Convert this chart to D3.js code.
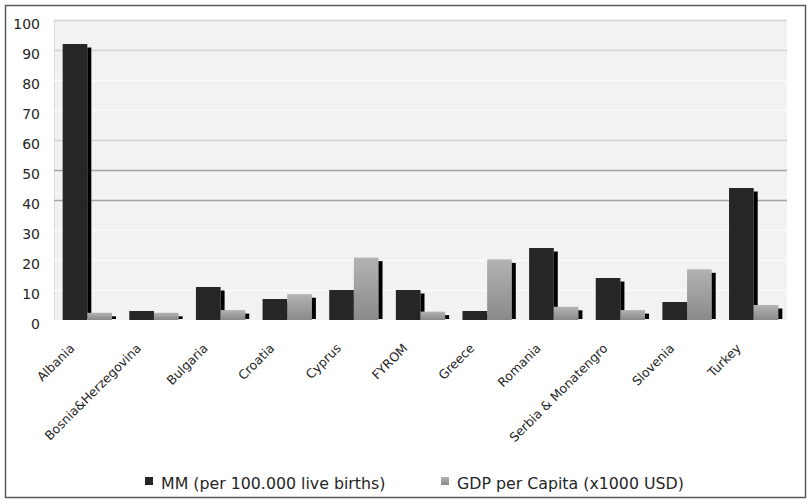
<!DOCTYPE html>
<html>
<head>
<meta charset="utf-8">
<script src="https://cdn.jsdelivr.net/npm/d3@7"></script>
<style>
  html, body { margin: 0; padding: 0; background: #fff; }
  svg { display: block; }
  text { font-family: "DejaVu Sans", Verdana, sans-serif; fill: #262626; }
</style>
</head>
<body>
<svg id="chart" width="807" height="499"></svg>
<script>
// Maternal mortality vs GDP per capita, Balkan countries
const countries = ["Albania", "Bosnia&Herzegovina", "Bulgaria", "Croatia", "Cyprus", "FYROM",
  "Greece", "Romania", "Serbia & Monatengro", "Slovenia", "Turkey"];
const mmRate = [92, 3, 11, 7, 10, 10, 3, 24, 14, 6, 44];
const gdpPerCapita = [2.4, 2.4, 3.3, 8.6, 20.8, 2.8, 20.2, 4.4, 3.3, 16.9, 5.0];
const seriesNames = ["MM (per 100.000 live births)", "GDP per Capita (x1000 USD)"];
const yTicks = [0, 10, 20, 30, 40, 50, 60, 70, 80, 90, 100];

const svg = d3.select("#chart");
const plot = { left: 54, right: 787, top: 20, bottom: 320 };

const defs = svg.append("defs");
const grad = defs.append("linearGradient")
  .attr("id", "gdpFill").attr("x1", 0).attr("y1", 0).attr("x2", 0).attr("y2", 1);
grad.append("stop").attr("offset", "0%").attr("stop-color", "#b3b3b3");
grad.append("stop").attr("offset", "100%").attr("stop-color", "#8a8a8a");

// outer frame
svg.append("rect")
  .attr("x", 5.5).attr("y", 5.5).attr("width", 800).attr("height", 492)
  .attr("fill", "#fff").attr("stroke", "#5a5a5a").attr("stroke-width", 1.5);

const x0 = d3.scaleBand().domain(countries).range([plot.left, plot.right]).padding(0);
const groupW = x0.bandwidth() * 0.74;
const x1 = d3.scaleBand().domain([0, 1]).range([0, groupW]).padding(0);
const y = d3.scaleLinear().domain([0, 100]).range([plot.bottom, plot.top]);

// plot background
svg.append("rect")
  .attr("x", plot.left).attr("y", plot.top)
  .attr("width", plot.right - plot.left).attr("height", plot.bottom - plot.top)
  .attr("fill", "#f2f2f2");
svg.append("line")
  .attr("x1", plot.left + 0.5).attr("x2", plot.left + 0.5)
  .attr("y1", plot.top).attr("y2", plot.bottom)
  .attr("stroke", "#dcdcdc");

// horizontal gridlines
const gridTone = v => (v === 40 || v === 50) ? "#a3a3a3"
  : (v === 100 || v === 90 || v === 60) ? "#d4d4d4" : "#fbfbfb";
svg.append("g").selectAll("line")
  .data(yTicks.filter(v => v > 0))
  .join("line")
  .attr("x1", plot.left).attr("x2", plot.right)
  .attr("y1", d => Math.round(y(d)) + 0.5).attr("y2", d => Math.round(y(d)) + 0.5)
  .attr("stroke", d => gridTone(d)).attr("stroke-width", 1.5);

// y axis labels
const yAxis = d3.axisLeft(y).tickValues(yTicks).tickSize(0).tickPadding(10);
const yg = svg.append("g").attr("transform", `translate(${plot.left - 4},0)`).call(yAxis);
yg.select(".domain").remove();
yg.selectAll("text").attr("font-size", 14).attr("dy", "0.62em")
  .style("font-family", "'DejaVu Sans', sans-serif").attr("fill", "#262626");

// bars with a dark side shadow
const groups = svg.append("g").selectAll("g")
  .data(countries.map((c, i) => ({ c, vals: [mmRate[i], gdpPerCapita[i]] })))
  .join("g")
  .attr("transform", d => `translate(${x0(d.c) + (x0.bandwidth() - groupW) / 2},0)`);

function drawSeries(s) {
  groups.append("rect")
    .attr("x", x1(s))
    .attr("y", d => y(d.vals[s]))
    .attr("width", x1.bandwidth())
    .attr("height", d => y(0) - y(d.vals[s]))
    .attr("fill", s === 0 ? "#262626" : "url(#gdpFill)");
  groups.append("rect")
    .attr("x", x1(s) + x1.bandwidth())
    .attr("y", d => y(d.vals[s]) + 3.5)
    .attr("width", 4)
    .attr("height", d => Math.max(0, y(0) - y(d.vals[s]) - 4.5))
    .attr("fill", "#000");
}
// MM first, so GDP bars sit over the MM shadows
drawSeries(0);
drawSeries(1);

// category labels, rotated
const xAxis = d3.axisBottom(x0).tickSize(0).tickPadding(0);
const xg = svg.append("g").attr("transform", `translate(0,${plot.bottom})`).call(xAxis);
xg.select(".domain").remove();
xg.selectAll("text")
  .attr("font-size", 12.5)
  .style("font-family", "'DejaVu Sans', sans-serif")
  .attr("fill", "#262626")
  .attr("text-anchor", "end")
  .attr("dy", null).attr("y", 0)
  .attr("transform", "translate(-12,29) rotate(-45)");

// legend
const legend = svg.append("g");
const legendX = [145, 441];
seriesNames.forEach((name, i) => {
  legend.append("rect")
    .attr("x", legendX[i]).attr("y", 477).attr("width", 8).attr("height", 8)
    .attr("fill", i === 0 ? "#262626" : "url(#gdpFill)");
  legend.append("text")
    .attr("x", legendX[i] + 16).attr("y", 489)
    .attr("font-size", 15.8)
    .text(name);
});
</script>
</body>
</html>
